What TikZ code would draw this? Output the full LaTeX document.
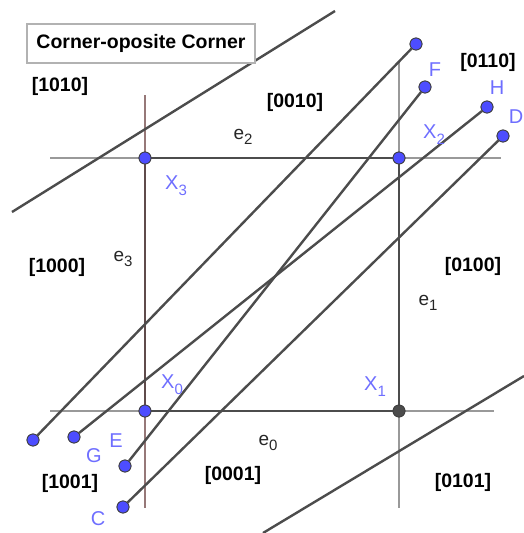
\documentclass[tikz,border=0pt]{standalone}
\usepackage{fontspec}
\setmainfont{Liberation Sans}
\definecolor{ptblue}{RGB}{77,77,255}
\definecolor{labblue}{RGB}{110,110,255}
\definecolor{brgray}{RGB}{150,120,120}
\definecolor{brdark}{RGB}{95,75,75}
\newcommand{\mysub}[1]{\raisebox{-0.55ex}{\fontsize{15}{15}\selectfont #1}}
\begin{document}
\begin{tikzpicture}[x=1pt,y=-1pt,
  thin line/.style={draw=black!40,line width=1.1pt},
  brown line/.style={draw=brgray,line width=1.1pt},
  edge/.style={draw=black!70,line width=1.8pt},
  slant/.style={draw=black!70,line width=2.4pt},
  pt/.style={circle,fill=ptblue,draw=black!75,line width=0.8pt,inner sep=0pt,minimum size=12pt},
  ptlab/.style={text=labblue,font=\fontsize{20}{20}\selectfont,inner sep=0pt},
  reglab/.style={font=\bfseries\fontsize{19.5}{20}\selectfont,inner sep=0pt},
  elab/.style={font=\fontsize{19}{19}\selectfont,inner sep=0pt,text=black!85}]
\useasboundingbox (0,0) rectangle (524,533);
% guide lines
\coordinate (tl0) at (50,158); \coordinate (tl1) at (501,158);
\coordinate (bl0) at (50,411); \coordinate (bl1) at (494,411);
\coordinate (vl0) at (145,95); \coordinate (vl1) at (145,508);
\coordinate (vr0) at (399,62); \coordinate (vr1) at (399,508);
\draw[thin line] (tl0) -- (tl1);
\draw[thin line] (bl0) -- (bl1);
\draw[brown line] (vl0) -- (vl1);
\draw[thin line] (vr0) -- (vr1);
% long lines
\coordinate (la0) at (12,212); \coordinate (la1) at (335,11);
\coordinate (lb0) at (263,533); \coordinate (lb1) at (524,376);
\draw[slant] (la0) -- (la1);
\draw[slant] (lb0) -- (lb1);
% square points
\node[pt] (X3) at (145,158) {};
\node[pt] (X2) at (399,158) {};
\node[pt] (X0) at (145,411) {};
\node[pt,fill=black!70] (X1) at (399,411) {};
\draw[edge] (X3) -- (X2);
\draw[edge] (X2) -- (X1);
\draw[edge] (X1) -- (X0);
\draw[edge,draw=brdark] (X0) -- (X3);
% segments
\node[pt] (P) at (416,44) {};
\node[pt] (Q) at (33,440) {};
\node[pt] (F) at (425,87) {};
\node[pt] (E) at (125,466) {};
\node[pt] (H) at (487,107) {};
\node[pt] (G) at (74,437) {};
\node[pt] (D) at (503,136) {};
\node[pt] (C) at (123,507) {};
\draw[slant] (P) -- (Q);
\draw[slant] (F) -- (E);
\draw[slant] (H) -- (G);
\draw[slant] (D) -- (C);
% redraw points on top
\foreach \n in {X3,X2,X0,P,Q,F,E,H,G,D,C} \node[pt] at (\n) {};
\node[pt,fill=black!70] at (X1) {};
% point labels
\node[ptlab] (lF) at (435,70) {F};
\node[ptlab] (lH) at (497,88) {H};
\node[ptlab] (lD) at (516,117) {D};
\node[ptlab] (lG) at (94,456) {G};
\node[ptlab] (lE) at (116,441) {E};
\node[ptlab] (lC) at (98,519) {C};
\node[ptlab] (lX2) at (434,135) {X\mysub{2}};
\node[ptlab] (lX3) at (176,186) {X\mysub{3}};
\node[ptlab] (lX0) at (172,385) {X\mysub{0}};
\node[ptlab] (lX1) at (375,387) {X\mysub{1}};
% edge labels
\node[elab] (e2) at (243,137) {e\mysub{2}};
\node[elab] (e3) at (123,259) {e\mysub{3}};
\node[elab] (e1) at (428,303) {e\mysub{1}};
\node[elab] (e0) at (268,443) {e\mysub{0}};
% region labels
\node[reglab] (r1010) at (60,86) {[1010]};
\node[reglab] (r0010) at (295,102) {[0010]};
\node[reglab] (r0110) at (488,62) {[0110]};
\node[reglab] (r1000) at (57,267) {[1000]};
\node[reglab] (r0100) at (473,266) {[0100]};
\node[reglab] (r1001) at (70,483) {[1001]};
\node[reglab] (r0001) at (233,475) {[0001]};
\node[reglab] (r0101) at (463,482) {[0101]};
% title
\node[draw=black!30,line width=1.5pt,fill=white,minimum width=228pt,minimum height=39pt,inner sep=0pt,font=\bfseries\fontsize{19.5}{20}\selectfont] (title) at (141,43.5) {Corner-oposite Corner};
\end{tikzpicture}
\end{document}
